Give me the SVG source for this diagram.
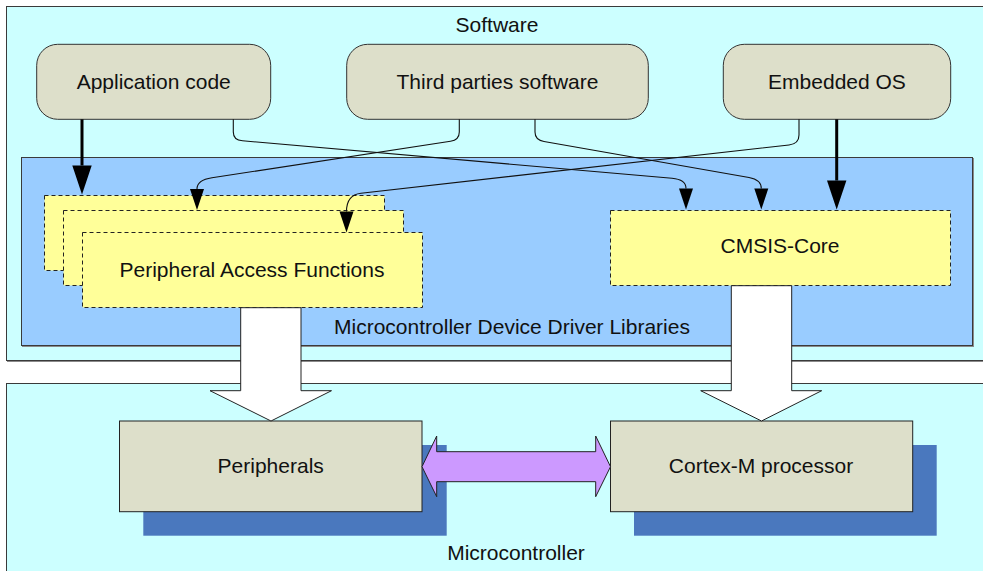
<svg xmlns="http://www.w3.org/2000/svg" width="983" height="571" viewBox="0 0 983 571">
<style>
text{font-family:"Liberation Sans",Arial,sans-serif;font-size:21px;fill:#111;text-anchor:middle}
.area{stroke:#3a3a3a;stroke-width:1}
.shadowline{fill:none;stroke:#8a8a8a;stroke-width:1}
.sw{fill:#DDDFCA;stroke:#333;stroke-width:1}
.lib{fill:#FFFF99;stroke:#222;stroke-width:1;stroke-dasharray:4 3}
.hw{fill:#DDDFCA;stroke:#222;stroke-width:1}
.shadow{fill:#4A78BE}
.thin{fill:none;stroke:#111;stroke-width:1.1}
.thick{fill:none;stroke:#000;stroke-width:3}
.block{fill:#fff;stroke:#222;stroke-width:1}
.bus{fill:#CC99FF;stroke:#222;stroke-width:1}
</style>
<defs>
<marker id="ah" markerUnits="userSpaceOnUse" markerWidth="21" markerHeight="14" refX="0" refY="7" orient="auto" overflow="visible">
<path d="M0,0 L21,7 L0,14 Z" fill="#000"/>
</marker>
<marker id="ahk" markerUnits="userSpaceOnUse" markerWidth="29" markerHeight="20" refX="0" refY="9.7" orient="auto" overflow="visible">
<path d="M0,0 L29,9.7 L0,19.4 Z" fill="#000"/>
</marker>
</defs>
<rect width="983" height="571" fill="#fff"/>

<g id="software">
<rect x="7.5" y="7.5" width="990" height="354" class="shadowline"/>
<rect x="6.5" y="6.5" width="990" height="354" class="area" fill="#CCFFFF"/>
<text x="497" y="32">Software</text>
</g>

<g id="microcontroller">
<rect x="7.5" y="384.5" width="990" height="200" class="shadowline"/>
<rect x="6.5" y="383.5" width="990" height="200" class="area" fill="#CCFFFF"/>
<text x="516" y="560">Microcontroller</text>
</g>

<g id="driver-libraries">
<rect x="22.5" y="158.5" width="951" height="188" class="shadowline"/>
<rect x="21.5" y="157.5" width="951" height="188" class="area" fill="#99CCFF"/>
<text x="512" y="334">Microcontroller Device Driver Libraries</text>
</g>

<g id="application-code">
<rect x="36.7" y="44.3" width="234" height="75" rx="21" class="sw"/>
<text x="153.7" y="89.3">Application code</text>
</g>

<g id="third-parties">
<rect x="346.7" y="44.3" width="301.6" height="75" rx="21" class="sw"/>
<text x="497.5" y="89.3">Third parties software</text>
</g>

<g id="embedded-os">
<rect x="723.3" y="44.3" width="227.4" height="75" rx="21" class="sw"/>
<text x="837" y="89.3">Embedded OS</text>
</g>

<g id="peripheral-access-functions">
<rect x="44.5" y="195.5" width="340" height="75" class="lib"/>
<rect x="63.5" y="210.5" width="340" height="75" class="lib"/>
<rect x="82.5" y="232.5" width="340" height="75" class="lib"/>
<text x="252" y="276.7">Peripheral Access Functions</text>
</g>

<g id="cmsis-core">
<rect x="610.5" y="210.5" width="340" height="75" class="lib"/>
<text x="780" y="253.3">CMSIS-Core</text>
</g>

<g id="peripherals">
<rect x="143.3" y="445" width="303.4" height="90.7" class="shadow"/>
<rect x="119.5" y="421" width="302.5" height="90.7" class="hw"/>
<text x="270.7" y="472.5">Peripherals</text>
</g>

<g id="cortex-m">
<rect x="634" y="445" width="302.7" height="90.7" class="shadow"/>
<rect x="610.5" y="421" width="302.2" height="90.7" class="hw"/>
<text x="761" y="473">Cortex-M processor</text>
</g>

<g id="connectors">
<path class="thick" d="M82,119.3 V165.5" marker-end="url(#ahk)"/>
<path class="thick" d="M836.7,119.3 V180.5" marker-end="url(#ahk)"/>
<path class="thin" d="M233.3,119.3 V132 Q233.3,140.2 242.5,140.8 L672,178.3 Q686,179.5 686,188.5" marker-end="url(#ah)"/>
<path class="thin" d="M459.3,119.3 V132 Q459.3,140 450.5,141.2 L212,177.8 Q197,180 197,189" marker-end="url(#ah)"/>
<path class="thin" d="M535,119.3 V132 Q535,140 544,141.5 L749,177.5 Q761.3,179.7 761.3,188.5" marker-end="url(#ah)"/>
<path class="thin" d="M799,119.3 V135 Q799,143.8 789,145 L361,193.2 Q346.5,194.8 346.5,211.5" marker-end="url(#ah)"/>
<path class="block" d="M240.7,307.7 V390.7 H210 L271,421 L331.5,390.7 H301 V307.7 Z"/>
<path class="block" d="M731.3,285.7 V390.7 H700.7 L761.5,421 L821.7,390.7 H791.7 V285.7 Z"/>
<path class="bus" d="M422,466.7 L436.7,436 V451.7 H595.7 V436 L610.5,466.7 L595.7,496.7 V481.7 H436.7 V496.7 Z"/>
</g>
</svg>
